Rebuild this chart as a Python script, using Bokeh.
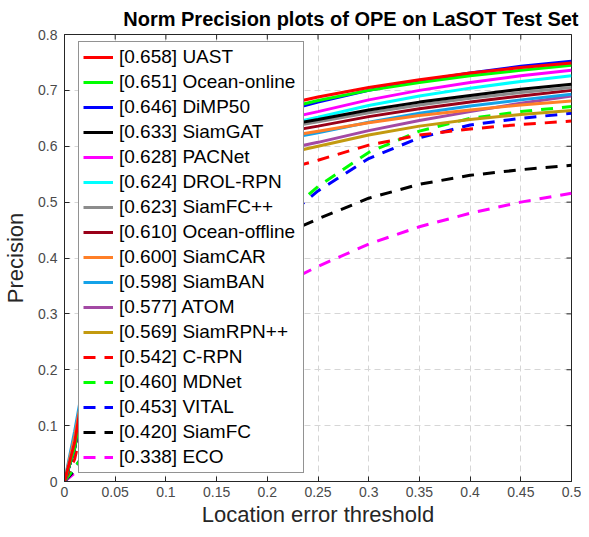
import math
from bokeh.plotting import figure
from bokeh.models import FixedTicker, Range1d
from bokeh.embed import file_html
from bokeh.resources import INLINE

# ---- data ----
thresholds = [0, 0.01, 0.02, 0.05, 0.1, 0.15, 0.2, 0.25, 0.3, 0.35, 0.4, 0.45, 0.5]

names = ["UAST", "Ocean-online", "DiMP50", "SiamGAT", "PACNet", "DROL-RPN", "SiamFC++",
         "Ocean-offline", "SiamCAR", "SiamBAN", "ATOM", "SiamRPN++", "C-RPN", "MDNet",
         "VITAL", "SiamFC", "ECO"]
scores = [0.658, 0.651, 0.646, 0.633, 0.628, 0.624, 0.623, 0.610, 0.600, 0.598, 0.577,
          0.569, 0.542, 0.460, 0.453, 0.420, 0.338]

uast = [0, 0.07, 0.18, 0.44, 0.58, 0.64, 0.668, 0.688, 0.705, 0.719, 0.731, 0.741, 0.749]
ocean_online = [0, 0.06, 0.17, 0.43, 0.57, 0.63, 0.660, 0.682, 0.700, 0.714, 0.726, 0.736, 0.745]
dimp50 = [0, 0.06, 0.16, 0.41, 0.55, 0.62, 0.655, 0.679, 0.700, 0.717, 0.731, 0.743, 0.752]
siamgat = [0, 0.06, 0.16, 0.41, 0.55, 0.605, 0.632, 0.648, 0.665, 0.679, 0.691, 0.702, 0.711]
pacnet = [0, 0.06, 0.16, 0.41, 0.55, 0.61, 0.642, 0.662, 0.683, 0.700, 0.714, 0.726, 0.736]
drol_rpn = [0, 0.07, 0.17, 0.40, 0.54, 0.60, 0.632, 0.652, 0.673, 0.690, 0.704, 0.716, 0.726]
siamfcpp = [0, 0.07, 0.17, 0.41, 0.55, 0.605, 0.628, 0.644, 0.660, 0.674, 0.686, 0.696, 0.705]
ocean_offline = [0, 0.06, 0.15, 0.39, 0.53, 0.59, 0.620, 0.636, 0.653, 0.667, 0.679, 0.690, 0.700]
siamcar = [0, 0.08, 0.18, 0.40, 0.53, 0.585, 0.612, 0.627, 0.642, 0.655, 0.665, 0.674, 0.681]
siamban = [0, 0.09, 0.19, 0.40, 0.52, 0.58, 0.607, 0.624, 0.643, 0.659, 0.672, 0.683, 0.693]
atom = [0, 0.06, 0.15, 0.36, 0.49, 0.555, 0.588, 0.607, 0.628, 0.646, 0.662, 0.677, 0.690]
siamrpnpp = [0, 0.07, 0.16, 0.37, 0.49, 0.55, 0.580, 0.600, 0.620, 0.636, 0.648, 0.657, 0.664]
crpn = [0, 0.04, 0.12, 0.31, 0.44, 0.51, 0.550, 0.575, 0.602, 0.620, 0.631, 0.639, 0.645]
mdnet = [0, 0.025, 0.05, 0.12, 0.24, 0.34, 0.45, 0.528, 0.589, 0.627, 0.650, 0.662, 0.671]
vital = [0, 0.025, 0.05, 0.12, 0.24, 0.335, 0.445, 0.52, 0.578, 0.615, 0.638, 0.650, 0.659]
siamfc = [0, 0.02, 0.05, 0.14, 0.28, 0.37, 0.43, 0.47, 0.507, 0.532, 0.548, 0.558, 0.566]
eco = [0, 0.015, 0.03, 0.08, 0.17, 0.25, 0.34, 0.385, 0.425, 0.456, 0.48, 0.50, 0.516]

series = [uast, ocean_online, dimp50, siamgat, pacnet, drol_rpn, siamfcpp, ocean_offline,
          siamcar, siamban, atom, siamrpnpp, crpn, mdnet, vital, siamfc, eco]

x_ticks = [0, 0.05, 0.1, 0.15, 0.2, 0.25, 0.3, 0.35, 0.4, 0.45, 0.5]
x_tick_labels = ["0", "0.05", "0.1", "0.15", "0.2", "0.25", "0.3", "0.35", "0.4", "0.45", "0.5"]
y_ticks = [0, 0.1, 0.2, 0.3, 0.4, 0.5, 0.6, 0.7, 0.8]
y_tick_labels = ["0", "0.1", "0.2", "0.3", "0.4", "0.5", "0.6", "0.7", "0.8"]

title_text = "Norm Precision plots of OPE on LaSOT Test Set"
x_label = "Location error threshold"
y_label = "Precision"

X_MAX = x_ticks[-1]
Y_MAX = y_ticks[-1]

# ---- styles ----
colors = ["#ff0000", "#00ff00", "#0000ff", "#000000", "#ff00ff", "#00ffff", "#8c8c8c",
          "#990018", "#ff7f27", "#14a2e8", "#a349a4", "#c39a0f",
          "#ff0000", "#00ff00", "#0000ff", "#000000", "#ff00ff"]
dashes = ["solid"] * 12 + ["12 9"] * 5

FONT = "Liberation Sans"
AXC = "#262626"

p = figure(width=581, height=529, output_backend="svg", toolbar_location=None,
           x_range=Range1d(0, X_MAX), y_range=Range1d(0, Y_MAX),
           min_border_left=56, min_border_right=10, min_border_top=27, min_border_bottom=20,
           title=title_text)

p.title.text_font = FONT
p.title.text_font_size = "20px"
p.title.text_font_style = "bold"
p.title.align = "right"
p.title.offset = -7
p.title.text_color = "#000000"
p.title.standoff = 10

p.outline_line_color = AXC
p.outline_line_width = 1
p.background_fill_color = "white"
p.border_fill_color = "white"

for ax in (p.xaxis[0], p.yaxis[0]):
    ax.major_label_text_font = FONT
    ax.major_label_text_font_size = "14px"
    ax.major_label_text_color = "#4a4a4a"
    ax.axis_label_text_font = FONT
    ax.axis_label_text_font_size = "22px"
    ax.axis_label_text_font_style = "normal"
    ax.axis_label_text_color = AXC
    ax.major_tick_in = 5
    ax.major_tick_out = 0
    ax.minor_tick_in = 0
    ax.minor_tick_out = 0
    ax.minor_tick_line_color = None
    ax.axis_line_color = AXC
    ax.major_tick_line_color = AXC

p.xaxis[0].ticker = FixedTicker(ticks=x_ticks)
p.xaxis[0].major_label_overrides = dict(zip(x_ticks, x_tick_labels))
p.yaxis[0].ticker = FixedTicker(ticks=y_ticks)
p.yaxis[0].major_label_overrides = dict(zip(y_ticks, y_tick_labels))
p.xaxis[0].axis_label = x_label
p.yaxis[0].axis_label = y_label
p.xaxis[0].major_label_standoff = 5
p.xaxis[0].axis_label_standoff = 2
p.yaxis[0].major_label_standoff = 7
p.yaxis[0].axis_label_standoff = 7

# mirrored inward ticks along top and right edges: centred dash markers, outer half clipped
p.scatter(x=x_ticks, y=[Y_MAX] * len(x_ticks), marker="dash", size=10, angle=math.pi / 2,
          line_color=AXC, line_width=1)
p.scatter(x=[X_MAX] * len(y_ticks), y=y_ticks, marker="dash", size=10,
          line_color=AXC, line_width=1)

p.xgrid.ticker = FixedTicker(ticks=x_ticks)
p.ygrid.ticker = FixedTicker(ticks=y_ticks)
for g in (p.xgrid[0], p.ygrid[0]):
    g.grid_line_color = "#d6d6d6"
    g.grid_line_dash = "6 4"
    g.grid_line_width = 1

# draw in reverse so top-ranked curves lie on top
for i in reversed(range(len(names))):
    p.line(thresholds, series[i], line_color=colors[i], line_width=3,
           line_dash=dashes[i], legend_label=f"[{scores[i]:.3f}] {names[i]}")

leg = p.legend[0]
leg.items = list(reversed(leg.items))
leg.location = (14, 8)
leg.margin = 0
leg.padding = 4
leg.spacing = 3
leg.glyph_width = 30
leg.glyph_height = 22
leg.label_height = 22
leg.label_width = 180
leg.label_standoff = 6
leg.label_text_font = FONT
leg.label_text_font_size = "19px"
leg.label_text_color = "#000000"
leg.border_line_color = AXC
leg.border_line_width = 1
leg.background_fill_alpha = 1.0
leg.background_fill_color = "white"

open("out.html", "w").write(file_html(p, INLINE))
